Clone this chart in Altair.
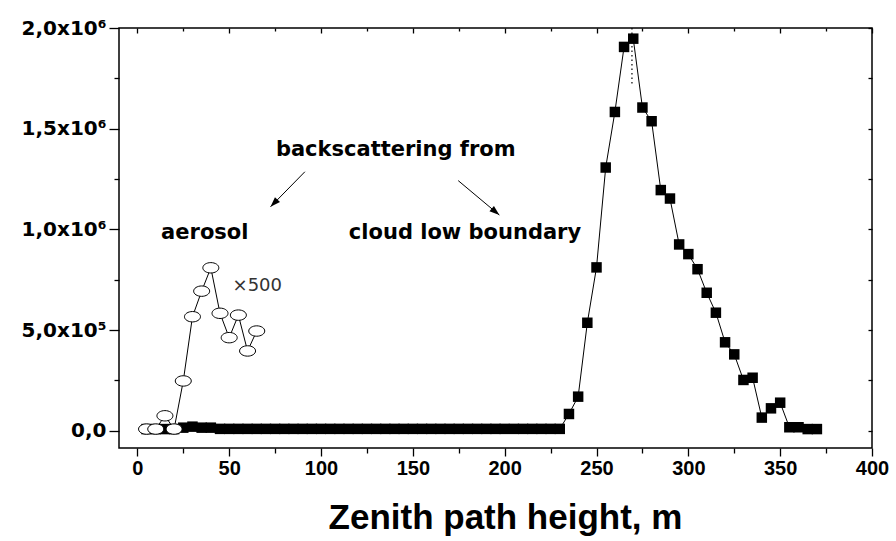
import altair as alt
import pandas as pd

# ---- data ----
flat_x = [5, 10, 15, 20, 25, 30, 35, 40, 45, 50, 55, 60, 65, 70, 75, 80, 85, 90, 95, 100,
          105, 110, 115, 120, 125, 130, 135, 140, 145, 150, 155, 160, 165, 170, 175, 180,
          185, 190, 195, 200, 205, 210, 215, 220, 225, 230]
flat_y = [8000, 8000, 8000, 8000, 15000, 20000, 15000, 15000, 9000, 9000, 9000, 9000, 9000,
          9000, 9000, 9000, 9000, 9000, 9000, 9000, 9000, 9000, 9000, 9000, 9000, 9000, 9000,
          9000, 9000, 9000, 9000, 9000, 9000, 9000, 9000, 9000, 9000, 9000, 9000, 9000, 9000,
          9000, 9000, 9000, 9000, 9000]
peak_x = [235, 240, 245, 250, 255, 260, 265, 270, 275, 280, 285, 290, 295, 300, 305, 310,
          315, 320, 325, 330, 335, 340, 345, 350, 355, 360, 365, 370]
peak_y = [83000, 169000, 536000, 811000, 1307000, 1583000, 1906000, 1947000, 1605000,
          1537000, 1195000, 1153000, 925000, 877000, 802000, 685000, 586000, 439000, 379000,
          252000, 263000, 65000, 111000, 139000, 17000, 17000, 8000, 8000]
aer_x = [5, 10, 15, 20, 25, 30, 35, 40, 45, 50, 55, 60, 65]
aer_y = [8000, 8000, 74000, 8000, 247000, 566000, 693000, 809000, 583000, 462000, 574000,
         396000, 495000]

x_major = [0, 50, 100, 150, 200, 250, 300, 350, 400]
x_minor = [25, 75, 125, 175, 225, 275, 325, 375]
y_major = [0, 500000, 1000000, 1500000, 2000000]
y_minor = [250000, 750000, 1250000, 1750000]
y_all = [0, 250000, 500000, 750000, 1000000, 1250000, 1500000, 1750000, 2000000]
y_labels = ["0,0", "5,0x10\u2075", "1,0x10\u2076", "1,5x10\u2076", "2,0x10\u2076"]

note_text = ["backscattering from", "aerosol", "cloud low boundary"]
note_x = [140.7, 36.7, 178.4]
note_y = [1394000, 982000, 982000]
mult_text = ["\u00d7500"]
mult_x = [65.3]
mult_y = [719000]
arrow_x = [91.2, 174.7]
arrow_y = [1286000, 1242000]
arrow_x2 = [72.5, 197.1]
arrow_y2 = [1112000, 1071000]
arrow_angle = [224, 130]
drop_x = [269.3]
drop_top = [2000000]
drop_bottom = [1716000]

# ---- tables ----
cloud = pd.DataFrame({"h": flat_x + peak_x, "s": flat_y + peak_y})
aer = pd.DataFrame({"h": aer_x, "s": aer_y})
notes = pd.DataFrame({"t": note_text, "x": note_x, "y": note_y})
mult = pd.DataFrame({"t": mult_text, "x": mult_x, "y": mult_y})
arrows = pd.DataFrame({"x": arrow_x, "y": arrow_y, "x2": arrow_x2, "y2": arrow_y2,
                       "ang": arrow_angle})
drop = pd.DataFrame({"x": drop_x, "y": drop_top, "y2": drop_bottom})

xs = alt.Scale(domain=[-10, 400], nice=False, zero=False)
ys = alt.Scale(domain=[-86000, 2000000], nice=False, zero=False)

expr = "''"
for v, lab in zip(y_major, y_labels):
    expr = f"datum.value == {v} ? '{lab}' : ({expr})"

common = dict(grid=False, domain=False, tickColor="black", tickWidth=1.3,
              labelOverlap=False, labelFlush=False)

x_main_axis = alt.Axis(values=x_major, orient="bottom", tickSize=8,
                       labelFont="Liberation Sans", labelFontWeight="bold",
                       labelFontSize=20, labelColor="black", labelPadding=2,
                       title="Zenith path height, m", titleFont="Liberation Sans",
                       titleFontSize=35, titleFontWeight="bold", titleColor="black",
                       titleY=80, titleX=386, titleAlign="center",
                       titleBaseline="alphabetic", **common)
x_minor_axis = alt.Axis(values=x_minor, orient="bottom", tickSize=5, labels=False,
                        title=None, **common)
x_top_axis = alt.Axis(values=x_major, orient="top", tickSize=5, offset=-5, labels=False,
                      title=None, **common)
x_top_minor = alt.Axis(values=x_minor, orient="top", tickSize=3, offset=-3, labels=False,
                       title=None, **common)
y_main_axis = alt.Axis(values=y_major, orient="left", tickSize=10, labelExpr=expr,
                       labelFont="DejaVu Sans", labelFontWeight="bold", labelFontSize=20,
                       labelColor="black", labelPadding=3, title=None, **common)
y_minor_axis = alt.Axis(values=y_minor, orient="left", tickSize=5, labels=False,
                        title=None, **common)
y_right_axis = alt.Axis(values=y_all, orient="right", tickSize=4, offset=-4, labels=False,
                        title=None, **common)

cloud_line = alt.Chart(cloud).mark_line(color="black", strokeWidth=1).encode(
    x=alt.X("h:Q", scale=xs, axis=x_main_axis),
    y=alt.Y("s:Q", scale=ys, axis=y_main_axis),
    order="h:Q",
)
cloud_pts = alt.Chart(cloud).mark_square(size=110, color="black", filled=True,
                                         opacity=1).encode(
    x=alt.X("h:Q", scale=xs, axis=x_minor_axis),
    y=alt.Y("s:Q", scale=ys, axis=y_minor_axis),
)
drop_line = alt.Chart(drop).mark_rule(color="black", strokeWidth=1.2,
                                      strokeDash=[1.5, 3]).encode(
    x=alt.X("x:Q", scale=xs, axis=x_top_axis),
    y=alt.Y("y:Q", scale=ys, axis=y_right_axis),
    y2="y2:Q",
)
aer_line = alt.Chart(aer).mark_line(color="black", strokeWidth=1).encode(
    x=alt.X("h:Q", scale=xs, axis=x_top_minor),
    y=alt.Y("s:Q", scale=ys, axis=None),
    order="h:Q",
)
ellipse = ("M -1 0 C -1 -0.359 -0.552 -0.65 0 -0.65 C 0.552 -0.65 1 -0.359 1 0 "
           "C 1 0.359 0.552 0.65 0 0.65 C -0.552 0.65 -1 0.359 -1 0 Z")
aer_pts = alt.Chart(aer).mark_point(shape=ellipse, size=256, filled=True, fill="white",
                                    stroke="black", strokeWidth=1, opacity=1).encode(
    x=alt.X("h:Q", scale=xs, axis=None),
    y=alt.Y("s:Q", scale=ys, axis=None),
)
arrow_lines = alt.Chart(arrows).mark_rule(color="black", strokeWidth=1).encode(
    x=alt.X("x:Q", scale=xs, axis=None),
    y=alt.Y("y:Q", scale=ys, axis=None),
    x2="x2:Q",
    y2="y2:Q",
)
arrow_heads = alt.Chart(arrows).mark_point(shape="M 0 0 L 0.35 1 L -0.35 1 Z", size=400,
                                           filled=True, color="black", opacity=1).encode(
    x=alt.X("x2:Q", scale=xs, axis=None),
    y=alt.Y("y2:Q", scale=ys, axis=None),
    angle=alt.Angle("ang:Q", scale=None),
)
note_marks = alt.Chart(notes).mark_text(font="DejaVu Sans", fontWeight="bold", fontSize=21,
                                        color="black", align="center",
                                        baseline="middle").encode(
    x=alt.X("x:Q", scale=xs, axis=None),
    y=alt.Y("y:Q", scale=ys, axis=None),
    text="t:N",
)
mult_marks = alt.Chart(mult).mark_text(font="DejaVu Sans", fontSize=18, color="#333333",
                                       align="center", baseline="middle").encode(
    x=alt.X("x:Q", scale=xs, axis=None),
    y=alt.Y("y:Q", scale=ys, axis=None),
    text="t:N",
)

chart = alt.layer(
    cloud_line, cloud_pts, drop_line, aer_line, aer_pts, arrow_lines, arrow_heads,
    note_marks, mult_marks,
).resolve_axis(x="independent", y="independent").properties(
    width=753, height=420,
    padding={"left": 119, "top": 28, "right": 24, "bottom": 93},
    autosize=alt.AutoSizeParams(type="none"),
    background="white",
).configure_view(stroke="black", strokeWidth=1.5)

chart.save("out.html", embed_options={"renderer": "svg", "actions": False})
